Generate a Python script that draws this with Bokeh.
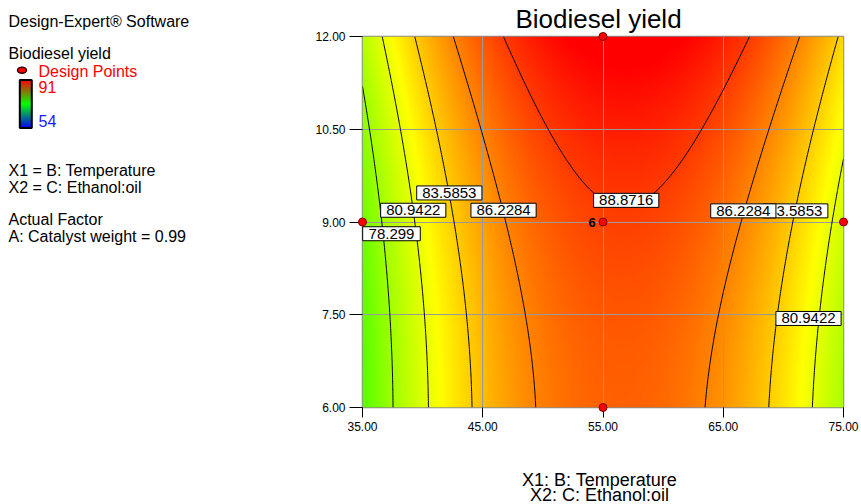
import numpy as np
from bokeh.plotting import figure
from bokeh.layouts import row
from bokeh.models import Range1d, FixedTicker, PrintfTickFormatter
from bokeh.core.properties import value
from bokeh.embed import file_html
from bokeh.resources import INLINE

# ---------------- data ----------------
temp_range = [35.0, 75.0]          # B: Temperature
ethanol_range = [6.0, 12.0]        # C: Ethanol:oil
# quadratic model in coded factors (read from the contour geometry)
coef_terms = ["Intercept", "B", "C", "BC", "B^2", "C^2"]
coef_values = [88.62, 1.75, 2.01, 0.26, -10.30, 0.84]
contour_levels = [78.299, 80.9422, 83.5853, 86.2284, 88.8716]
response_low, response_high = 54, 91
design_temp = [35, 55, 55, 55, 75]
design_ethanol = [9, 12, 9, 6, 9]
center_point_count = 6
x_ticks = [35, 45, 55, 65, 75]
y_ticks = [6.0, 7.5, 9.0, 10.5, 12.0]
label_text = ["78.299", "80.9422", "83.5853", "86.2284", "88.8716", "83.5853", "86.2284", "80.9422"]
label_temp = [37.41, 39.22, 42.22, 46.73, 56.93, 70.99, 66.67, 72.09]
label_eth = [8.81, 9.19, 9.47, 9.19, 9.35, 9.18, 9.18, 7.44]

FONT = value("Liberation Sans")

# frame geometry in page pixels
FL, FR, FT, FB = 362, 843, 36, 407


def model(T, E):
    b0, b1, b2, b12, b11, b22 = coef_values
    tc, th = (temp_range[0] + temp_range[1]) / 2, (temp_range[1] - temp_range[0]) / 2
    ec, eh = (ethanol_range[0] + ethanol_range[1]) / 2, (ethanol_range[1] - ethanol_range[0]) / 2
    x = (T - tc) / th
    y = (E - ec) / eh
    return b0 + b1 * x + b2 * y + b12 * x * y + b11 * x ** 2 + b22 * y ** 2


def x_of(px):
    return temp_range[0] + (px - FL) * (temp_range[1] - temp_range[0]) / (FR - FL)


def y_of(py):
    return ethanol_range[1] - (py - FT) * (ethanol_range[1] - ethanol_range[0]) / (FB - FT)


nx, ny = 321, 161
Tv = np.linspace(temp_range[0], temp_range[1], nx)
Ev = np.linspace(ethanol_range[0], ethanol_range[1], ny)
TT, EE = np.meshgrid(Tv, Ev)
Z = model(TT, EE)

# hue map: red at high end, blue at low end
hue6 = np.clip((response_high - Z) / (response_high - response_low), 0, 1) * 4.0
R = np.clip(np.abs(hue6 - 3) - 1, 0, 1)
G = np.clip(2 - np.abs(hue6 - 2), 0, 1)
B = np.clip(2 - np.abs(hue6 - 4), 0, 1)
rgba = np.zeros((ny, nx, 4), dtype=np.uint8)
rgba[..., 0] = (R * 255).astype(np.uint8)
rgba[..., 1] = (G * 255).astype(np.uint8)
rgba[..., 2] = (B * 255).astype(np.uint8)
rgba[..., 3] = 255
img = rgba.view(dtype=np.uint32).reshape((ny, nx))

LEFTW = 300

# ---------------- main plot ----------------
p = figure(width=861 - LEFTW, height=504,
           x_range=Range1d(temp_range[0], temp_range[1]),
           y_range=Range1d(ethanol_range[0], ethanol_range[1]),
           output_backend="svg", toolbar_location=None,
           min_border_left=FL - LEFTW, min_border_right=861 - FR,
           min_border_top=FT, min_border_bottom=504 - FB)
p.background_fill_color = "white"
p.border_fill_color = "white"
p.outline_line_color = "#8c8c8c"
p.outline_line_width = 1.5

p.image_rgba(image=[img], x=temp_range[0], y=ethanol_range[0],
             dw=temp_range[1] - temp_range[0], dh=ethanol_range[1] - ethanol_range[0], level="image")

p.contour(x=Tv, y=Ev, z=Z, levels=contour_levels, line_color="black", line_width=1)

for ax, ticks, tout in ((p.xaxis, x_ticks, 10), (p.yaxis, y_ticks, 13)):
    ax.ticker = FixedTicker(ticks=ticks)
    ax.formatter = PrintfTickFormatter(format="%.2f")
    ax.axis_line_color = None
    ax.major_tick_out = tout
    ax.major_tick_in = 0
    ax.minor_tick_line_color = None
    ax.major_tick_line_color = "black"
    ax.major_label_text_font = "Liberation Sans"
    ax.major_label_text_font_size = "12px"
    ax.major_label_text_color = "black"
    ax.major_label_standoff = 4

for g in (p.xgrid, p.ygrid):
    g.grid_line_color = "#9a9a9a"
    g.grid_line_width = 1

for txt, t, e in zip(label_text, label_temp, label_eth):
    w = 7.6 * len(txt) + 12
    p.rect(x=[t], y=[e], width=w, height=14, width_units="screen", height_units="screen",
           fill_color="white", line_color="black", line_width=1, level="annotation")
    p.text(x=[t], y=[e], text=[txt], text_align="center", text_baseline="middle",
           text_font=FONT, text_font_size="15px", text_color="black", level="annotation")

p.scatter(design_temp, design_ethanol, size=8, fill_color="#ff0000", line_color="#7a0000",
          line_width=1, level="overlay")

# replicate count next to the centre point
p.text(x=[design_temp[2]], y=[design_ethanol[2]], x_offset=-11, text=[str(center_point_count)],
       text_align="center", text_baseline="middle", text_font=FONT, text_font_size="13px",
       text_font_style="bold", text_color="black", level="overlay")

# title and axis captions (y = vertical centre of the capitals)
p.text(x=[x_of(598)], y=[y_of(18)], text=["Biodiesel yield"], text_align="center",
       text_baseline="middle", text_font=FONT, text_font_size="26px", text_color="black",
       level="overlay")
p.text(x=[x_of(599)], y=[y_of(479.5)], text=["X1: B: Temperature"], text_align="center",
       text_baseline="middle", text_font=FONT, text_font_size="18px", text_color="black",
       level="overlay")
p.text(x=[x_of(599)], y=[y_of(494.5)], text=["X2: C: Ethanol:oil"], text_align="center",
       text_baseline="middle", text_font=FONT, text_font_size="18px", text_color="black",
       level="overlay")

# ---------------- left info panel ----------------
lp = figure(width=LEFTW, height=504, x_range=Range1d(0, LEFTW), y_range=Range1d(FB, FT),
            output_backend="svg", toolbar_location=None,
            min_border_left=0, min_border_right=0, min_border_top=FT, min_border_bottom=504 - FB,
            x_axis_location=None, y_axis_location=None)
lp.outline_line_color = None
lp.grid.visible = False
lp.background_fill_color = "white"
lp.border_fill_color = "white"


def ltext(x, y, s, color="black"):
    lp.text(x=[x], y=[y], text=[s], text_font=FONT, text_font_size="16px",
            text_baseline="middle", text_align="left", text_color=color, level="overlay")


ltext(8, 20.8, "Design-Expert® Software")
ltext(8, 53.3, "Biodiesel yield")
lp.ellipse(x=[21.5], y=[69.7], width=9, height=6, fill_color="#ff0000", line_color="#300000",
           line_width=1.5, level="overlay")
ltext(38, 70.8, "Design Points", "#ff0000")
ltext(38, 86.7, str(response_high), "#ff0000")
ltext(38, 120.7, str(response_low), "#1a1aff")

n = 48
tops = np.linspace(79.5, 127.5, n + 1)
cols = []
for i in range(n):
    t = (i + 0.5) / n
    if t < 0.5:
        r, g, b = 1 - 2 * t, 2 * t, 0.0
    else:
        r, g, b = 0.0, 2 - 2 * t, 2 * t - 1
    cols.append("#%02x%02x%02x" % (int(r * 255), int(g * 255), int(b * 255)))
lp.quad(left=[19.3] * n, right=[31.3] * n, top=list(tops[:-1]), bottom=list(tops[1:]),
        fill_color=cols, line_color=None, level="overlay")
lp.quad(left=[19.3], right=[31.3], top=[79.5], bottom=[127.5], fill_color=None,
        line_color="black", line_width=2, level="overlay")

ltext(8, 170, "X1 = B: Temperature")
ltext(8, 187.3, "X2 = C: Ethanol:oil")
ltext(8, 219.3, "Actual Factor")
ltext(8, 236, "A: Catalyst weight = 0.99")

layout = row(lp, p)
open("out.html", "w").write(file_html(layout, INLINE))
